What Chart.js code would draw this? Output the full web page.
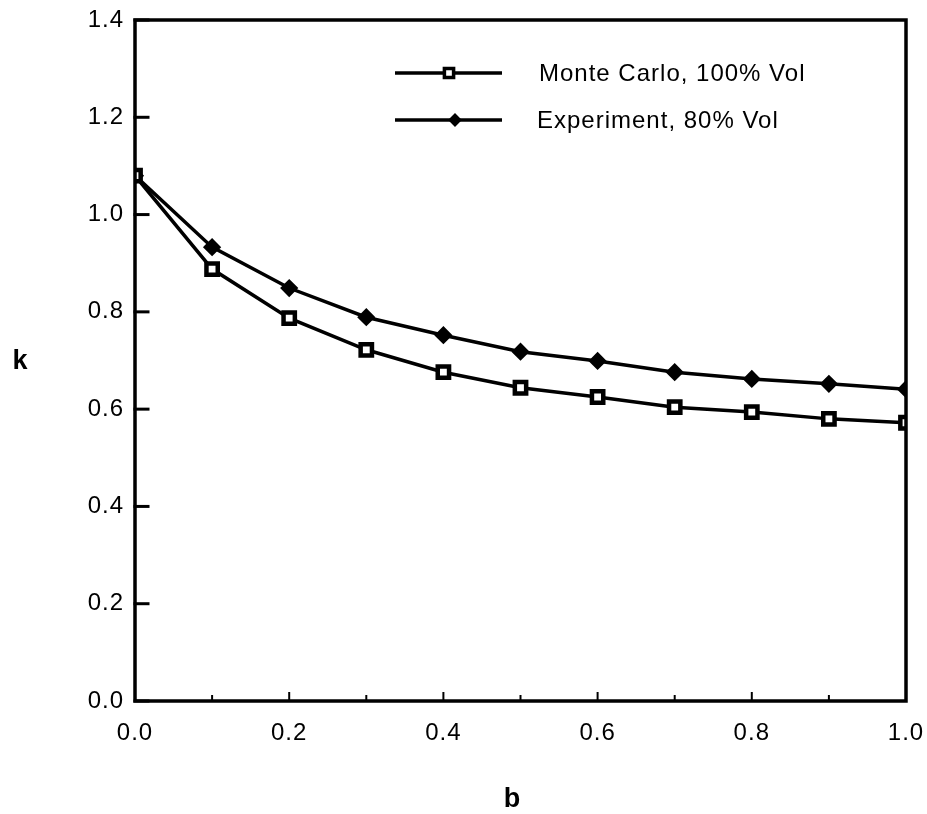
<!DOCTYPE html>
<html>
<head>
<meta charset="utf-8">
<script src="https://cdn.jsdelivr.net/npm/chart.js@4.4.1/dist/chart.umd.min.js"></script>
<style>
  html, body { margin: 0; padding: 0; background: #fff; }
  #wrap { width: 927px; height: 814px; }
</style>
</head>
<body>
<div id="wrap"><canvas id="c" width="927" height="814"></canvas></div>
<script>
// ---- data ----
const bValues   = [0.0, 0.1, 0.2, 0.3, 0.4, 0.5, 0.6, 0.7, 0.8, 0.9, 1.0];
const mcValues  = [1.08, 0.888, 0.787, 0.722, 0.676, 0.644, 0.625, 0.604, 0.594, 0.580, 0.572];
const expValues = [1.08, 0.933, 0.849, 0.789, 0.752, 0.718, 0.699, 0.676, 0.662, 0.652, 0.641];
const seriesLabels = ['Monte Carlo, 100% Vol', 'Experiment, 80% Vol'];
const xTickValues = [0.0, 0.2, 0.4, 0.6, 0.8, 1.0];
const yTickValues = [0.0, 0.2, 0.4, 0.6, 0.8, 1.0, 1.2, 1.4];
const xTitle = 'b';
const yTitle = 'k';

const FONT = '"Liberation Sans", Arial, Helvetica, sans-serif';
const SPACING = '1px';

const spacingPlugin = {
  id: 'spacing',
  beforeInit(chart) { chart.ctx.letterSpacing = SPACING; },
  beforeUpdate(chart) { chart.ctx.letterSpacing = SPACING; },
  beforeDraw(chart) { chart.ctx.letterSpacing = SPACING; }
};

const framePlugin = {
  id: 'frame',
  afterDatasetsDraw(chart) {
    const { ctx, chartArea: a, scales } = chart;
    ctx.save();
    ctx.strokeStyle = '#000';
    ctx.lineCap = 'square';
    // y ticks, inward on the left axis
    ctx.lineWidth = 3;
    yTickValues.forEach(v => {
      const y = scales.y.getPixelForValue(v);
      ctx.beginPath(); ctx.moveTo(a.left, y); ctx.lineTo(a.left + 13, y); ctx.stroke();
    });
    // x ticks, inward on the bottom axis (major every 0.2, minor every 0.1)
    ctx.lineWidth = 2;
    bValues.forEach((v, i) => {
      const x = scales.x.getPixelForValue(v);
      const len = (i % 2 === 0) ? 8 : 5;
      ctx.beginPath(); ctx.moveTo(x, a.bottom); ctx.lineTo(x, a.bottom - len); ctx.stroke();
    });
    // frame box
    ctx.lineWidth = 3.5;
    ctx.lineCap = 'butt';
    ctx.strokeRect(a.left, a.top, a.right - a.left, a.bottom - a.top);
    ctx.restore();
  },
  afterDraw(chart) {
    const { ctx } = chart;
    ctx.save();
    // axis titles
    ctx.fillStyle = '#000';
    ctx.letterSpacing = '0px';
    ctx.font = 'bold 27px ' + FONT;
    ctx.textAlign = 'center';
    ctx.textBaseline = 'middle';
    ctx.fillText(yTitle, 20, 362);
    ctx.fillText(xTitle, 512, 800);

    // legend
    ctx.letterSpacing = SPACING;
    ctx.font = '24px ' + FONT;
    ctx.textAlign = 'left';
    const rows = [
      { y: 73, ds: chart.data.datasets[0], mx: 449, tx: 539 },
      { y: 120, ds: chart.data.datasets[1], mx: 455, tx: 537 }
    ];
    rows.forEach(r => {
      ctx.strokeStyle = '#000';
      ctx.lineWidth = 3.5;
      ctx.beginPath(); ctx.moveTo(395, r.y); ctx.lineTo(502, r.y); ctx.stroke();
      ctx.fillStyle = r.ds.pointBackgroundColor;
      ctx.strokeStyle = '#000';
      ctx.lineWidth = r.ds.pointBorderWidth - 1;
      Chart.helpers.drawPoint(ctx, {
        pointStyle: r.ds.pointStyle,
        radius: r.ds.pointRadius - 1.5,
        rotation: 0,
        borderWidth: r.ds.pointBorderWidth - 1
      }, r.mx, r.y);
      ctx.fillStyle = '#000';
      ctx.fillText(r.ds.label, r.tx, r.y + 1);
    });
    ctx.restore();
  }
};

const ctx = document.getElementById('c').getContext('2d');
new Chart(ctx, {
  type: 'line',
  data: {
    datasets: [
      {
        label: seriesLabels[0],
        data: bValues.map((b, i) => ({ x: b, y: mcValues[i] })),
        borderColor: '#000',
        borderWidth: 3.5,
        pointStyle: 'rect',
        pointRadius: 8,
        pointBorderWidth: 4.5,
        pointBackgroundColor: '#fff',
        pointBorderColor: '#000',
        tension: 0
      },
      {
        label: seriesLabels[1],
        data: bValues.map((b, i) => ({ x: b, y: expValues[i] })),
        borderColor: '#000',
        borderWidth: 3.5,
        pointStyle: 'rectRot',
        pointRadius: 7,
        pointBorderWidth: 3,
        pointBackgroundColor: '#000',
        pointBorderColor: '#000',
        tension: 0
      }
    ]
  },
  options: {
    responsive: false,
    animation: false,
    devicePixelRatio: 1,
    layout: { padding: { top: 20, right: 21, left: 0, bottom: 0 } },
    plugins: {
      legend: { display: false },
      tooltip: { enabled: false },
      title: { display: false }
    },
    scales: {
      x: {
        type: 'linear',
        min: 0, max: 1,
        grid: { display: false, drawTicks: false },
        border: { display: false },
        afterBuildTicks(s) { s.ticks = xTickValues.map(v => ({ value: v })); },
        afterFit(s) { s.height = 113; s.paddingLeft = 0; s.paddingRight = 0; },
        ticks: {
          color: '#000',
          font: { family: FONT, size: 24 },
          padding: 18,
          maxRotation: 0,
          callback: v => v.toFixed(1)
        }
      },
      y: {
        type: 'linear',
        min: 0, max: 1.4,
        grid: { display: false, drawTicks: false },
        border: { display: false },
        afterBuildTicks(s) { s.ticks = yTickValues.map(v => ({ value: v })); },
        afterFit(s) { s.width = 135; s.paddingTop = 0; s.paddingBottom = 0; },
        ticks: {
          color: '#000',
          font: { family: FONT, size: 24 },
          padding: 11,
          callback: v => v.toFixed(1)
        }
      }
    }
  },
  plugins: [spacingPlugin, framePlugin]
});
</script>
</body>
</html>
